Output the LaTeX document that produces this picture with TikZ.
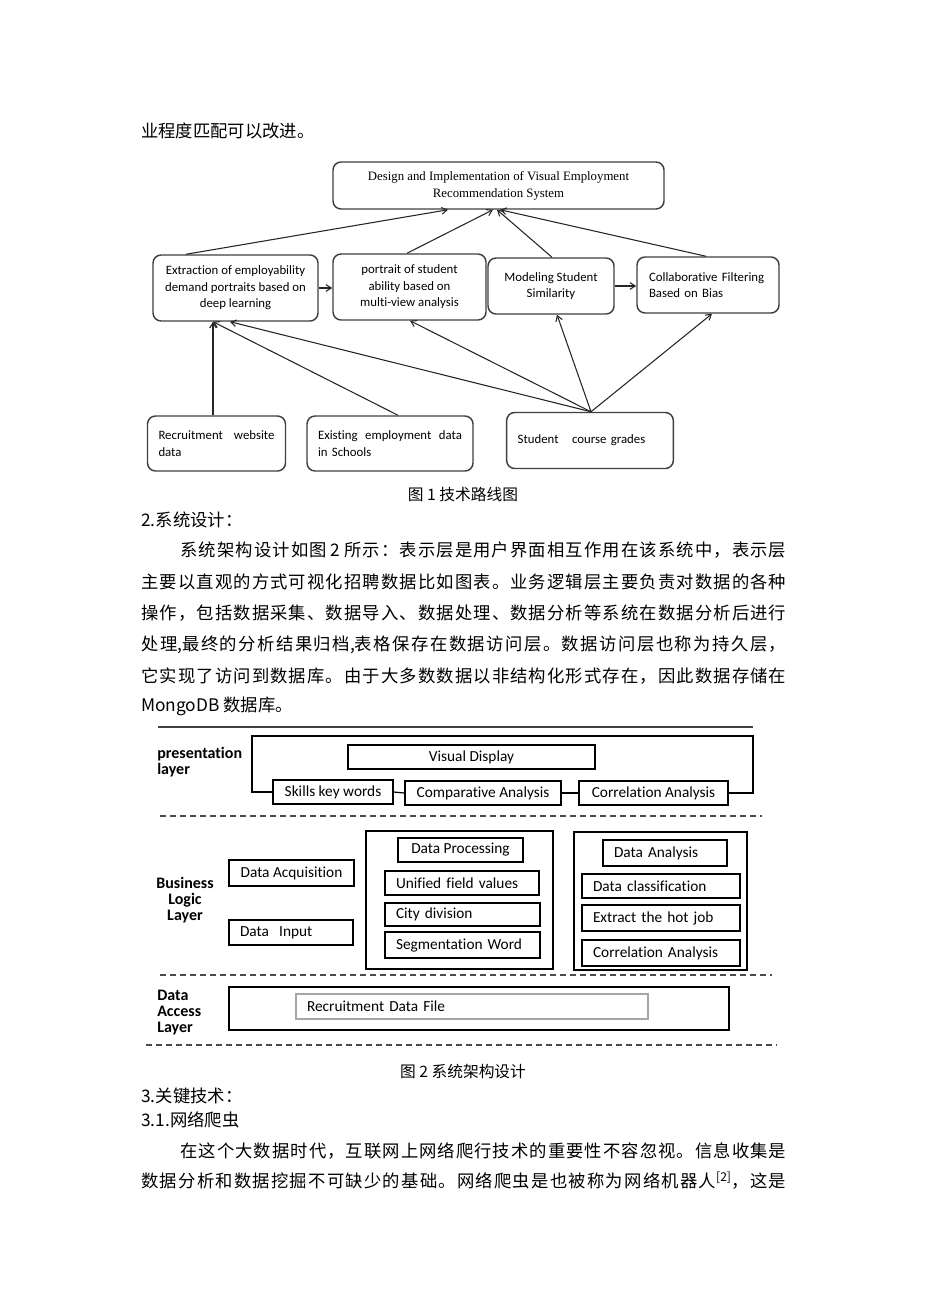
\documentclass[tikz,border=0pt]{standalone}
\usepackage{fontspec}
\setmainfont{Liberation Serif}
\newfontfamily\zhfont{Noto Sans CJK SC}
\newfontfamily\calib{Carlito}[Ligatures=NoCommon]
\usetikzlibrary{arrows.meta,calc}
% stretch between CJK characters, for the justified lines
\newXeTeXintercharclass\zhclass
\newcount\zhc
\zhc="4E00
\loop \XeTeXcharclass\zhc=\zhclass \advance\zhc by 1 \ifnum\zhc<"A000 \repeat
\XeTeXcharclass"3001=\zhclass \XeTeXcharclass"3002=\zhclass
\XeTeXcharclass"FF0C=\zhclass \XeTeXcharclass"FF1A=\zhclass
\XeTeXinterchartoks\zhclass\zhclass = {\hskip 0pt plus 1fil}
\XeTeXinterchartokenstate=1
\newcommand{\jline}[2]{\hbox to #1{#2}}

\tikzset{
    body/.style={anchor=west, inner sep=0pt, font=\zhfont\fontsize{13}{15}\selectfont},
    capt/.style={inner sep=0pt, font=\zhfont\fontsize{11.8}{13}\selectfont},
    wh/.style 2 args={minimum width=#1*0.75pt, minimum height=#2*0.75pt},
    rbox/.style={draw=black!75, line width=1.1pt, rounded corners=6pt, inner sep=0pt, align=center,
        font=\calib\fontsize{9.6}{12.4}\selectfont},
    lbox/.style={rbox, align=left, inner xsep=8.25pt},
    arr/.style={-{Straight Barb[length=4pt,width=5pt]}, line width=0.8pt, draw=black!85},
    sbox/.style={draw, line width=0.9pt, inner sep=0pt, align=center,
        font=\calib\fontsize{11.5}{13}\selectfont},
    slbox/.style={sbox, align=left, inner xsep=8.25pt},
    lay/.style={inner sep=0pt, font=\calib\bfseries\fontsize{12}{12}\selectfont},
    sep/.style={draw=black!70, line width=0.9pt, dash pattern=on 4.5pt off 3pt}
}

\begin{document}
\begin{tikzpicture}[x=0.75pt,y=-0.75pt]
\useasboundingbox (0,0) rectangle (926,1309);
\fill[white] (0,0) rectangle (926,1309);

% text above figure 1
\node[body] (t0) at (141,131) {业程度匹配可以改进。};

% figure 1: technical route
\node[rbox, wh={331}{47}, font=\fontsize{9.6}{12.8}\selectfont] (top) at (498.5,185.5)
    {Design and Implementation of Visual Employment\\Recommendation System};
\node[rbox, wh={165}{66}] (ext) at (235.5,288)
    {Extraction of employability\\demand portraits based on\\deep learning};
\node[rbox, wh={153}{66}] (port) at (409.5,287)
    {portrait of student\\ability based on\\multi-view analysis};
\node[rbox, wh={126}{56}] (model) at (551,286) {Modeling Student\\Similarity};
\node[lbox, wh={142}{56}, text width=88.5pt] (colab) at (708,285)
    {Collaborative Filtering\\Based on Bias};
\node[lbox, wh={137}{55}, text width=87pt] (recr) at (216.5,443.5)
    {Recruitment\hfill website\\data};
\node[lbox, wh={164}{55}, text width=108pt] (exist) at (390,443.5)
    {Existing\hfill employment\hfill data\\in Schools};
\node[lbox, wh={164}{56}, text width=108.5pt] (grade) at (590,440.5)
    {Student\hspace{7pt} course grades};

\coordinate (g0) at (grade.north -| 591,0);
\draw[arr] (ext.north -| 186,0) -- (top.south -| 448,0);
\draw[arr] (port.north -| 407,0) -- (top.south -| 493,0);
\draw[arr] (model.north -| 552,0) -- (top.south -| 497,0);
\draw[arr] (colab.north -| 706,0) -- (top.south -| 500,0);
\draw[arr] (ext.east) -- (ext.east -| port.west);
\draw[arr] (model.east) -- (model.east -| colab.west);
\draw[arr] (recr.north -| 213,0) -- (ext.south -| 213,0);
\draw[arr] (exist.north -| 398,0) -- (ext.south -| 213,0);
\draw[arr] (g0) -- (ext.south -| 230,0);
\draw[arr] (g0) -- (port.south -| 410,0);
\draw[arr] (g0) -- (model.south -| 557,0);
\draw[arr] (g0) -- (colab.south -| 712,0);

\node[capt] (cap1) at (463,495) {图 1 技术路线图};

% section 2 text
\node[body] (s2) at (141,520) {2.系统设计：};
\node[body] (p1) at (180,550) {\jline{454.5pt}{系统架构设计如图 2 所示：表示层是用户界面相互作用在该系统中，表示层}};
\node[body] (p2) at (141,582) {\jline{483.75pt}{主要以直观的方式可视化招聘数据比如图表。业务逻辑层主要负责对数据的各种}};
\node[body] (p3) at (141,613) {\jline{483.75pt}{操作，包括数据采集、数据导入、数据处理、数据分析等系统在数据分析后进行}};
\node[body] (p4) at (141,645) {\jline{483.75pt}{处理,最终的分析结果归档,表格保存在数据访问层。数据访问层也称为持久层，}};
\node[body] (p5) at (141,676) {\jline{483.75pt}{它实现了访问到数据库。由于大多数数据以非结构化形式存在，因此数据存储在}};
\node[body] (p6) at (141,706) {MongoDB 数据库。};

% figure 2: system architecture
\draw[black!75, line width=0.9pt] (158,727) -- (753,727);
\node[lay, anchor=west, align=left] (lp) at (157,762) {presentation\\layer};
\node[sbox, wh={247}{24}] (vis) at (471.5,757) {Visual Display};
\node[sbox, wh={120}{24}] (skill) at (333,792) {Skills key words};
\node[sbox, wh={156}{24}] (comp) at (483,793) {Comparative Analysis};
\node[sbox, wh={149}{24}] (corr1) at (653.5,793) {Correlation Analysis};
\draw[line width=0.9pt] (skill.west) -- (skill.west -| 252,0) -- (252,736) -- (753,736)
    -- (corr1.east -| 753,0) -- (corr1.east);
\draw[line width=0.9pt] (skill.east) -- (comp.west);
\draw[line width=0.9pt] (comp.east) -- (corr1.west);
\draw[sep] (160,816) -- (762,816);

\node[lay, align=center] (lb) at (185,900) {Business\\Logic\\Layer};
\node[sbox, wh={125}{26}] (acq) at (291.5,873) {Data Acquisition};
\node[slbox, wh={124}{25}, text width=76.5pt] (inp) at (291,932.5) {Data\ \ Input};
\node[sbox, wh={187}{138}] (proc) at (459.5,900) {};
\node[sbox, wh={125}{24}] (dproc) at (460.5,850) {Data Processing};
\node[slbox, wh={154}{24}, text width=99pt] (unif) at (462,883) {Unified field values};
\node[slbox, wh={155}{23}, text width=99.75pt] (city) at (462.5,914.5) {City division};
\node[slbox, wh={155}{26}, text width=99.75pt] (segm) at (462.5,945) {Segmentation Word};
\node[sbox, wh={173}{138}] (anal) at (660.5,901) {};
\node[slbox, wh={124}{26}, text width=76.5pt] (danal) at (665,853) {Data Analysis};
\node[slbox, wh={158}{24}, text width=102pt] (dcls) at (661,886) {Data classification};
\node[slbox, wh={158}{26}, text width=102pt] (hot) at (661,918) {Extract the hot job};
\node[slbox, wh={158}{26}, text width=102pt] (corr2) at (661,953) {Correlation Analysis};
\draw[sep] (160,975) -- (772,975);

\node[lay, anchor=west, align=left] (la) at (157,1013) {Data\\Access\\Layer};
\node[sbox, wh={500}{43}] (acc) at (479,1008.5) {};
\node[slbox, draw=black!35, wh={352}{25}, text width=247.5pt] (file) at (472,1006.5) {Recruitment Data File};
\draw[sep] (146,1045) -- (777,1045);

\node[capt] (cap2) at (463,1071) {图 2 系统架构设计};

% section 3 text
\node[body] (s3) at (141,1096) {3.关键技术：};
\node[body] (s31) at (141,1120) {3.1.网络爬虫};
\node[body] (q1) at (180,1151) {\jline{454.5pt}{在这个大数据时代，互联网上网络爬行技术的重要性不容忽视。信息收集是}};
\node[body] (q2) at (141,1181) {\jline{483.75pt}{数据分析和数据挖掘不可缺少的基础。网络爬虫是也被称为网络机器人\textsuperscript{[2]}，这是}};
\end{tikzpicture}
\end{document}
